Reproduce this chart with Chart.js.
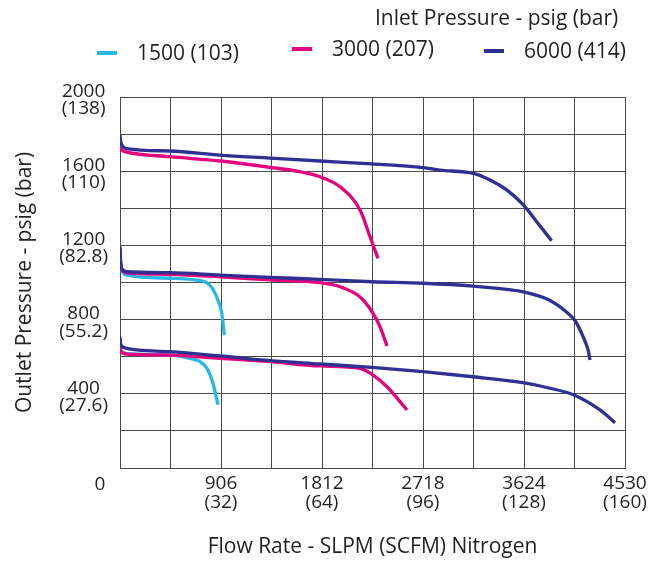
<!DOCTYPE html>
<html lang="en">
  <head>
    <meta charset="UTF-8" />
    <title>Outlet Pressure vs Flow Rate</title>
    <script src="https://cdn.jsdelivr.net/npm/chart.js"></script>
    <style>
      body { margin: 0; background: #fff; }
      #wrap { width: 660px; height: 562px; }
    </style>
  </head>
  <body>
    <div id="wrap">
      <canvas id="flowChart" width="660" height="562"></canvas>
    </div>
    <script>
      // tick labels (SLPM / SCFM, psig / bar)
      const xTickSlpm = [906, 1812, 2718, 3624, 4530];
      const xTickScfm = ["(32)", "(64)", "(96)", "(128)", "(160)"];
      const yTickPsig = [400, 800, 1200, 1600, 2000];
      const yTickBar = ["(27.6)", "(55.2)", "(82.8)", "(110)", "(138)"];

      // legend
      const inletLabels = ["1500 (103)", "3000 (207)", "6000 (414)"];
      const inletColors = ["#27b8e6", "#e5007d", "#2e3192"];

      // curves: [flow SLPM, outlet psig]
      const c6000Top = [[0,1795],[5,1765],[20,1738],[60,1722],[449,1709],[897,1687],[1346,1671],[1794,1655],[2260,1639],[2718,1619],[2870,1606],[3169,1588],[3319,1553],[3469,1499],[3618,1418],[3738,1328],[3872,1225]];
      const c6000Mid = [[0,1193],[5,1115],[20,1072],[60,1058],[449,1053],[897,1040],[1346,1028],[1794,1017],[2260,1004],[2718,996],[3166,981],[3409,967],[3618,949],[3857,903],[4007,840],[4081,795],[4156,705],[4201,631],[4216,582]];
      const c6000Low = [[0,708],[5,672],[20,655],[60,645],[449,627],[897,604],[1346,579],[1794,561],[2260,542],[2718,519],[3166,492],[3615,460],[3857,430],[4072,394],[4306,313],[4440,244]];

      const c3000Top = [[0,1752],[5,1725],[20,1712],[60,1703],[449,1678],[897,1655],[1346,1621],[1615,1597],[1794,1570],[1973,1516],[2153,1391],[2243,1247],[2314,1130]];
      const c3000Mid = [[0,1186],[5,1110],[20,1065],[60,1052],[449,1044],[897,1031],[1346,1014],[1794,999],[1973,977],[2153,922],[2270,834],[2332,762],[2395,658]];
      const c3000Low = [[0,690],[5,640],[20,622],[60,614],[449,609],[897,591],[1346,573],[1794,550],[2153,537],[2270,501],[2395,438],[2485,377],[2574,313]];

      const c1500Mid = [[0,1190],[5,1105],[20,1062],[60,1040],[449,1023],[718,1010],[778,999],[838,960],[883,897],[913,834],[936,717]];
      const c1500Low = [[0,690],[5,640],[20,625],[60,616],[449,609],[628,591],[718,573],[780,537],[834,457],[879,340]];

      const FONT = '"Open Sans", "Noto Sans", sans-serif';
      const TXT = "#231f20";
      const GRID = "#4a4a4a";

      function curve(points, color) {
        return {
          data: points.map((p) => ({ x: p[0], y: p[1] })),
          borderColor: color,
          borderWidth: 3.3,
          pointRadius: 0,
          fill: false,
          cubicInterpolationMode: "monotone",
        };
      }

      // first dataset is drawn on top
      const datasets = [
        curve(c6000Top, inletColors[2]),
        curve(c6000Mid, inletColors[2]),
        curve(c6000Low, inletColors[2]),
        curve(c3000Top, inletColors[1]),
        curve(c3000Mid, inletColors[1]),
        curve(c3000Low, inletColors[1]),
        curve(c1500Mid, inletColors[0]),
        curve(c1500Low, inletColors[0]),
      ];

      // legend + corner zero, drawn by hand
      const legendPlugin = {
        id: "inletLegend",
        afterDraw(chart) {
          const ctx = chart.ctx;
          ctx.save();
          ctx.fillStyle = TXT;
          ctx.font = "21px " + FONT;
          ctx.textBaseline = "middle";
          ctx.textAlign = "left";
          ctx.fillText("Inlet Pressure - psig (bar)", 375, 19);
          const markX = [97, 292, 484];
          const rowY = [53, 49, 51];
          inletLabels.forEach((lab, i) => {
            ctx.strokeStyle = inletColors[i];
            ctx.lineWidth = 4;
            ctx.beginPath();
            ctx.moveTo(markX[i], rowY[i]);
            ctx.lineTo(markX[i] + 20, rowY[i]);
            ctx.stroke();
            ctx.fillText(lab, markX[i] + 40, rowY[i] + 1);
          });
          ctx.font = "19px " + FONT;
          ctx.textAlign = "center";
          ctx.fillText("0", 100, 485);
          ctx.restore();
        },
      };

      const ctx = document.getElementById("flowChart").getContext("2d");
      const flowChart = new Chart(ctx, {
        type: "line",
        data: { datasets: datasets },
        plugins: [legendPlugin],
        options: {
          responsive: false,
          animation: false,
          layout: { padding: { top: 97, right: 35, left: 0, bottom: 0 } },
          plugins: { legend: { display: false }, tooltip: { enabled: false } },
          scales: {
            x: {
              type: "linear",
              min: 0,
              max: 4530,
              afterFit(scale) { scale.height = 94; },
              grid: { color: GRID, lineWidth: 1, drawTicks: false },
              border: { color: GRID },
              ticks: {
                stepSize: 453,
                autoSkip: false,
                maxRotation: 0,
                padding: 6,
                color: TXT,
                font: { family: FONT, size: 19, lineHeight: 1.0 },
                callback(value) {
                  const i = xTickSlpm.indexOf(value);
                  return i < 0 ? "" : [String(xTickSlpm[i]), xTickScfm[i]];
                },
              },
              title: {
                display: true,
                text: "Flow Rate - SLPM (SCFM) Nitrogen",
                color: TXT,
                font: { family: FONT, size: 21 },
                padding: { top: 0, bottom: 2 },
              },
            },
            y: {
              type: "linear",
              min: 0,
              max: 2000,
              afterFit(scale) { scale.width = 120; },
              grid: { color: GRID, lineWidth: 1, drawTicks: false },
              border: { color: GRID },
              ticks: {
                stepSize: 200,
                autoSkip: false,
                padding: 12,
                crossAlign: "center",
                labelOffset: 3,
                color: TXT,
                font: { family: FONT, size: 19, lineHeight: 0.9 },
                callback(value) {
                  const i = yTickPsig.indexOf(value);
                  return i < 0 ? "" : [String(yTickPsig[i]), yTickBar[i]];
                },
              },
              title: {
                display: true,
                text: "Outlet Pressure - psig (bar)",
                color: TXT,
                font: { family: FONT, size: 21 },
                padding: { top: 12, bottom: 0 },
              },
            },
          },
        },
      });
    </script>
  </body>
</html>
